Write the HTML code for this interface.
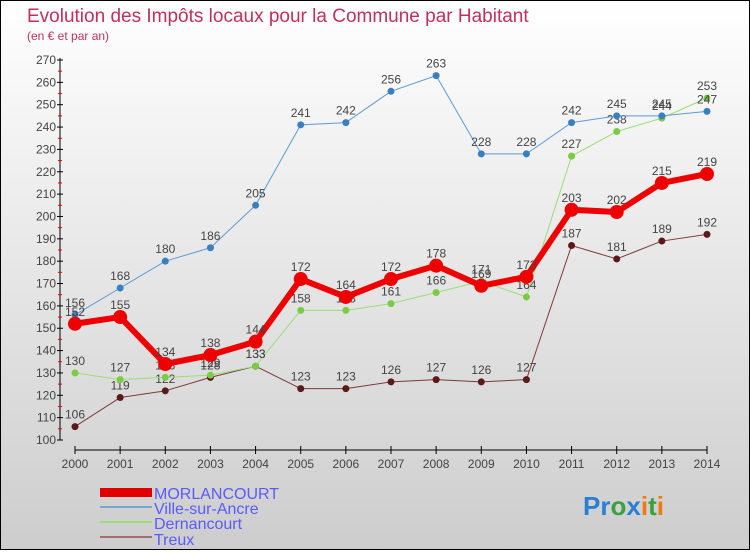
<!DOCTYPE html>
<html><head><meta charset="utf-8"><style>
body{margin:0}
#c{width:750px;height:550px;position:relative;font-family:"Liberation Sans",sans-serif}
</style></head><body>
<div id="c">
<svg id="s" width="750" height="550" xmlns="http://www.w3.org/2000/svg">
<defs><linearGradient id="bg" x1="0" y1="0" x2="0" y2="1"><stop offset="0" stop-color="#ffffff"/><stop offset="1" stop-color="#cdcdcd"/></linearGradient></defs>
<rect x="0.5" y="0.5" width="749" height="549" fill="url(#bg)" stroke="#000"/>
<text x="27" y="22" font-size="19" fill="#c0305a">Evolution des Impôts locaux pour la Commune par Habitant</text>
<text x="27" y="40" font-size="12" fill="#c0305a">(en € et par an)</text>
<g id="axes"></g><g id="series"></g>
<g>
<rect x="100" y="488" width="52" height="9" fill="#e00000"/>
<text x="154" y="499" font-size="16" fill="#5a5aff">MORLANCOURT</text>
<line x1="100" y1="507" x2="152" y2="507" stroke="#7aa8cc" stroke-width="2"/>
<text x="154" y="514" font-size="16" fill="#5a5aff">Ville-sur-Ancre</text>
<line x1="100" y1="522" x2="152" y2="522" stroke="#99dd77" stroke-width="2"/>
<text x="154" y="529" font-size="16" fill="#5a5aff">Dernancourt</text>
<line x1="100" y1="537" x2="152" y2="537" stroke="#a07070" stroke-width="2"/>
<text x="154" y="545" font-size="16" fill="#5a5aff">Treux</text>
</g>
<text x="583" y="515" font-size="26" font-weight="bold"><tspan fill="#2a7fd4">Pr</tspan><tspan fill="#3aa040">o</tspan><tspan fill="#2a7fd4">x</tspan><tspan fill="#f07a10">i</tspan><tspan fill="#3aa040">t</tspan><tspan fill="#f07a10">i</tspan></text>
</svg></div>
<script>
const years=[2000,2001,2002,2003,2004,2005,2006,2007,2008,2009,2010,2011,2012,2013,2014];
const yTicks=[100,110,120,130,140,150,160,170,180,190,200,210,220,230,240,250,260,270];
const morlancourt=[152,155,134,138,144,172,164,172,178,169,173,203,202,215,219];
const ville=[156,168,180,186,205,241,242,256,263,228,228,242,245,245,247];
const dernancourt=[130,127,128,129,133,158,158,161,166,171,164,227,238,244,253];
const treux=[106,119,122,128,133,123,123,126,127,126,127,187,181,189,192];
const NS="http://www.w3.org/2000/svg";
function X(i){return 75+i*(707-75)/(years.length-1);}
function Y(v){return 440-(v-100)*(380/170);}
function mk(t,a,p){const e=document.createElementNS(NS,t);for(const k in a)e.setAttribute(k,a[k]);p.appendChild(e);return e;}
const ax=document.getElementById('axes');
let e=mk('line',{x1:60,y1:58,x2:60,y2:440,stroke:'#000'},ax);


e=mk('line',{x1:75,y1:450,x2:707,y2:450,stroke:'#000'},ax);


yTicks.forEach((v,i)=>{
 mk('line',{x1:57,y1:Y(v),x2:63,y2:Y(v),stroke:'#000'},ax);
 if(i<yTicks.length-1)mk('line',{x1:58,y1:Y(v+5),x2:62,y2:Y(v+5),stroke:'#e00'},ax);
 const t=mk('text',{x:56,y:Y(v)+4,'font-size':12,fill:'#444','text-anchor':'end'},ax);t.textContent=v;
 
 
});
years.forEach((yr,i)=>{
 mk('line',{x1:X(i),y1:446,x2:X(i),y2:454,stroke:'#000'},ax);
 const t=mk('text',{x:X(i),y:468,'font-size':12,fill:'#444','text-anchor':'middle'},ax);t.textContent=yr;
 
 
});
const sg=document.getElementById('series');
function draw(data,color,w,r,name,dot){
 const g=mk('g',{},sg);
 
 
 const p=mk('polyline',{points:data.map((v,i)=>X(i)+','+Y(v)).join(' '),fill:'none',stroke:color,'stroke-width':w,'stroke-linejoin':'round'},g);
 
 
 data.forEach((v,i)=>{
  const c=mk('circle',{cx:X(i),cy:Y(v),r:r,fill:dot},g);
  
  
  const t=mk('text',{x:X(i),y:Y(v)-8,'font-size':12,fill:'#444','text-anchor':'middle'},g);t.textContent=v;
  
  
 });
}
draw(treux,'#7a3a3a',1,3.5,'treux','#5a1a1a');
draw(dernancourt,'#99dd77',1,3.5,'dernancourt','#7acc44');
draw(ville,'#5b9bd5',1,3.5,'ville-sur-ancre','#3a7fc0');
draw(morlancourt,'#ee0000',6,7,'morlancourt','#ee0000');
</script>
</body></html>
